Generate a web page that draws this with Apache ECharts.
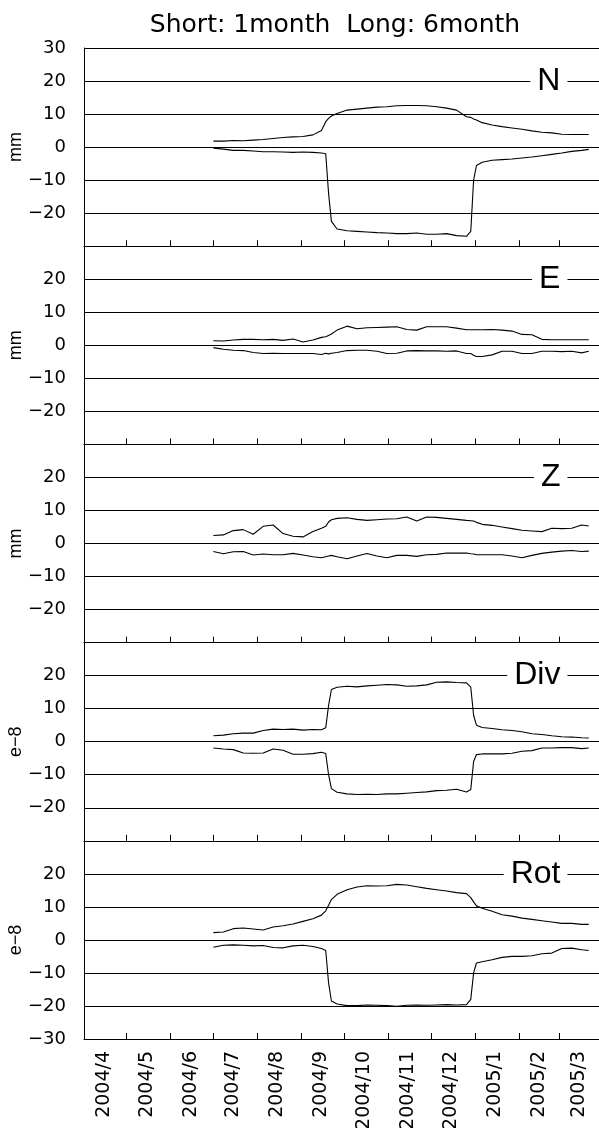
<!DOCTYPE html>
<html>
<head>
<meta charset="utf-8">
<script src="https://cdn.jsdelivr.net/npm/echarts@6/dist/echarts.min.js"></script>
<style>
html, body { margin: 0; padding: 0; background: #fff; }
#chart { width: 599px; height: 1128px; }
</style>
</head>
<body>
<div id="chart"></div>
<script>
// month labels along the bottom axis
const months = ['2004/4', '2004/5', '2004/6', '2004/7', '2004/8', '2004/9',
  '2004/10', '2004/11', '2004/12', '2005/1', '2005/2', '2005/3'];
const axisStart = '2004-04-01';
const axisEnd = '2005-04-01';

const yTicks = [-30, -20, -10, 0, 10, 20, 30];

// sample dates
const dates = ['2004-07-01', '2004-07-08', '2004-07-15', '2004-07-22', '2004-07-29',
  '2004-08-05', '2004-08-12', '2004-08-19', '2004-08-26', '2004-09-02', '2004-09-09',
  '2004-09-15', '2004-09-18', '2004-09-20', '2004-09-22', '2004-09-26', '2004-10-03',
  '2004-10-10', '2004-10-17', '2004-10-24', '2004-10-31', '2004-11-07', '2004-11-14',
  '2004-11-21', '2004-11-28', '2004-12-05', '2004-12-12', '2004-12-19', '2004-12-26',
  '2004-12-29', '2004-12-31', '2005-01-02', '2005-01-06', '2005-01-13', '2005-01-20',
  '2005-01-27', '2005-02-03', '2005-02-10', '2005-02-17', '2005-02-24', '2005-03-03',
  '2005-03-10', '2005-03-17', '2005-03-22'];

const nUpper = [1.8, 1.8, 2.0, 1.9, 2.1, 2.3, 2.6, 2.9, 3.1, 3.2, 3.7, 5.0, 7.7, 8.7, 9.4,
  10.2, 11.2, 11.5, 11.8, 12.1, 12.2, 12.5, 12.6, 12.6, 12.5, 12.2, 11.8, 11.2, 9.2, 9.0,
  8.5, 8.2, 7.4, 6.7, 6.2, 5.8, 5.4, 4.9, 4.5, 4.3, 3.9, 3.8, 3.8, 3.8];
const nLower = [-0.3, -0.6, -1.0, -1.0, -1.2, -1.4, -1.4, -1.5, -1.6, -1.5, -1.6, -1.8, -2.0,
  -14, -22.5, -24.8, -25.3, -25.5, -25.7, -25.9, -26.0, -26.2, -26.2, -26.0, -26.4, -26.4,
  -26.2, -26.8, -27.0, -25.5, -10, -5.6, -4.6, -4.0, -3.8, -3.6, -3.3, -3.0, -2.6, -2.2,
  -1.8, -1.3, -1.0, -0.7];

const eUpper = [1.4, 1.3, 1.6, 1.8, 1.8, 1.7, 1.8, 1.5, 1.9, 1.0, 1.6, 2.4, 2.6, 3.0, 3.4,
  4.6, 5.8, 5.0, 5.3, 5.4, 5.5, 5.6, 4.8, 4.6, 5.6, 5.6, 5.6, 5.2, 4.7, 4.7, 4.7, 4.7, 4.7,
  4.8, 4.6, 4.3, 3.3, 3.2, 1.8, 1.7, 1.7, 1.7, 1.7, 1.7];
const eLower = [-0.7, -1.2, -1.5, -1.6, -2.2, -2.5, -2.4, -2.5, -2.5, -2.5, -2.5, -2.8, -2.4,
  -2.6, -2.4, -2.2, -1.6, -1.5, -1.5, -1.8, -2.5, -2.4, -1.7, -1.6, -1.7, -1.7, -1.8, -1.7,
  -2.5, -2.5, -3.0, -3.4, -3.4, -2.9, -1.8, -1.8, -2.5, -2.5, -1.8, -1.8, -1.9, -1.8, -2.3,
  -1.8];

const zUpper = [2.4, 2.6, 3.9, 4.2, 2.8, 5.2, 5.6, 3.0, 2.2, 2.0, 3.6, 4.6, 5.2, 6.5, 7.2,
  7.6, 7.8, 7.3, 7.0, 7.2, 7.4, 7.5, 8.0, 6.8, 8.0, 7.9, 7.6, 7.3, 7.0, 6.9, 6.8, 6.4, 5.8,
  5.5, 5.0, 4.5, 4.0, 3.8, 3.6, 4.6, 4.5, 4.6, 5.6, 5.3];
const zLower = [-2.4, -3.1, -2.5, -2.4, -3.5, -3.2, -3.4, -3.4, -3.0, -3.5, -4.0, -4.3, -4.0,
  -3.8, -3.6, -4.0, -4.6, -3.8, -3.0, -3.8, -4.3, -3.6, -3.6, -3.9, -3.4, -3.3, -2.9, -2.9,
  -2.9, -3.1, -3.2, -3.4, -3.4, -3.4, -3.4, -3.8, -4.3, -3.6, -3.0, -2.6, -2.3, -2.1, -2.4,
  -2.3];

const divUpper = [1.8, 2.0, 2.4, 2.6, 2.6, 3.4, 3.8, 3.7, 3.8, 3.5, 3.7, 3.6, 4.2, 11, 15.8,
  16.5, 16.8, 16.6, 16.9, 17.1, 17.3, 17.2, 16.8, 16.9, 17.2, 18.0, 18.1, 17.9, 17.8, 16.5,
  8.0, 5.0, 4.3, 4.0, 3.6, 3.4, 3.0, 2.4, 2.2, 1.8, 1.5, 1.4, 1.2, 1.1];
const divLower = [-1.9, -2.2, -2.4, -3.4, -3.5, -3.4, -2.2, -2.6, -3.8, -3.8, -3.6, -3.2,
  -3.6, -10, -14.2, -15.3, -15.8, -16.0, -15.9, -16.0, -15.8, -15.8, -15.6, -15.4, -15.2,
  -14.8, -14.7, -14.4, -15.2, -14.5, -6.0, -3.9, -3.7, -3.7, -3.7, -3.5, -2.9, -2.7, -1.9,
  -1.9, -1.8, -1.8, -2.1, -1.9];

const rotUpper = [2.2, 2.4, 3.4, 3.6, 3.3, 3.0, 3.9, 4.3, 4.8, 5.6, 6.4, 7.5, 8.8, 10.5,
  12.2, 13.8, 15.2, 16.0, 16.4, 16.3, 16.4, 16.8, 16.6, 16.1, 15.6, 15.2, 14.8, 14.3, 14.0,
  12.8, 11.5, 10.3, 9.6, 8.7, 7.6, 7.2, 6.6, 6.2, 5.8, 5.4, 5.0, 5.0, 4.7, 4.7];
const rotLower = [-2.2, -1.6, -1.5, -1.6, -1.8, -1.7, -2.3, -2.4, -1.8, -1.6, -2.0, -2.6,
  -3.2, -13, -18.5, -19.4, -19.9, -19.9, -19.7, -19.8, -19.9, -20.1, -19.8, -19.7, -19.8,
  -19.7, -19.6, -19.7, -19.6, -18.0, -10, -7.0, -6.6, -6.0, -5.3, -5.0, -5.0, -4.8, -4.2,
  -4.0, -2.6, -2.5, -3.0, -3.2];

const panelNames = ['N', 'E', 'Z', 'Div', 'Rot'];
const panelUnits = ['mm', 'mm', 'mm', 'e−8', 'e−8'];
const panelData = [[nUpper, nLower], [eUpper, eLower], [zUpper, zLower],
  [divUpper, divLower], [rotUpper, rotLower]];

const FONT = '"Liberation Sans", Arial, sans-serif';
const WIDE = '"DejaVu Sans", sans-serif';

function toTime(s) {
  const p = s.split('-');
  return new Date(+p[0], +p[1] - 1, +p[2]).getTime();
}
function monthTime(m, day) {
  const p = m.split('/');
  return new Date(+p[0], +p[1] - 1, day).getTime();
}

const xMin = toTime(axisStart);
const xMax = toTime(axisEnd);
const tickTimes = months.map(m => monthTime(m, 1));
const labelTimes = months.map(m => monthTime(m, 15));
const times = dates.map(toTime);

const panelTop = 48;
const panelH = 198.2;
const last = panelNames.length - 1;

const grids = [], xAxes = [], yAxes = [], series = [];

panelNames.forEach((name, i) => {
  grids.push({ left: 84, width: 519, top: panelTop + i * panelH, height: panelH,
    outerBoundsMode: 'none', containLabel: false });
  xAxes.push({
    type: 'value',
    gridIndex: i,
    min: xMin,
    max: xMax,
    axisLine: { show: true, onZero: false, lineStyle: { color: '#000', width: 1 } },
    axisTick: { show: true, inside: true, length: 6, customValues: tickTimes,
      lineStyle: { color: '#000', width: 1 } },
    axisLabel: {
      show: i === last,
      customValues: labelTimes,
      rotate: 90,
      margin: 12,
      fontSize: 19,
      color: '#000',
      fontFamily: WIDE,
      formatter: v => {
        const d = new Date(v);
        return d.getFullYear() + '/' + (d.getMonth() + 1);
      }
    },
    splitLine: { show: false }
  });
  yAxes.push({
    type: 'value',
    gridIndex: i,
    min: yTicks[0],
    max: yTicks[yTicks.length - 1],
    interval: 10,
    name: panelUnits[i],
    nameLocation: 'middle',
    nameRotate: 90,
    nameGap: 59,
    nameMoveOverlap: false,
    nameTextStyle: { fontSize: 18, color: '#000', fontFamily: FONT },
    axisLine: { show: true, lineStyle: { color: '#000', width: 1 } },
    axisTick: { show: false },
    axisLabel: {
      margin: 18,
      fontSize: 18,
      color: '#000',
      fontFamily: WIDE,
      showMinLabel: i === last,
      showMaxLabel: i === 0,
      formatter: v => String(v).replace('-', '−')
    },
    splitLine: { show: true, lineStyle: { color: '#000', width: 1 } }
  });
  panelData[i].forEach((vals, k) => {
    const s = {
      type: 'line',
      xAxisIndex: i,
      yAxisIndex: i,
      data: times.map((t, j) => [t, vals[j]]),
      showSymbol: false,
      symbol: 'none',
      lineStyle: { color: '#000', width: 1.1 },
      silent: true
    };
    if (k === 0) {
      s.markPoint = {
        symbol: 'rect',
        symbolSize: 0,
        data: [{ coord: [toTime('2005-03-07'), 20], value: name }],
        label: {
          show: true,
          position: 'left',
          distance: 0,
          formatter: name,
          fontSize: 32,
          color: '#000',
          fontFamily: FONT,
          backgroundColor: '#fff',
          padding: [0, 7, 0, 7]
        }
      };
    }
    series.push(s);
  });
});

const chart = echarts.init(document.getElementById('chart'));
chart.setOption({
  animation: false,
  backgroundColor: '#fff',
  title: {
    text: 'Short: 1month  Long: 6month',
    left: 330,
    top: 8,
    textAlign: 'center',
    textStyle: { fontSize: 25, fontWeight: 'normal', color: '#000', fontFamily: WIDE }
  },
  grid: grids,
  xAxis: xAxes,
  yAxis: yAxes,
  series: series
});
</script>
</body>
</html>
